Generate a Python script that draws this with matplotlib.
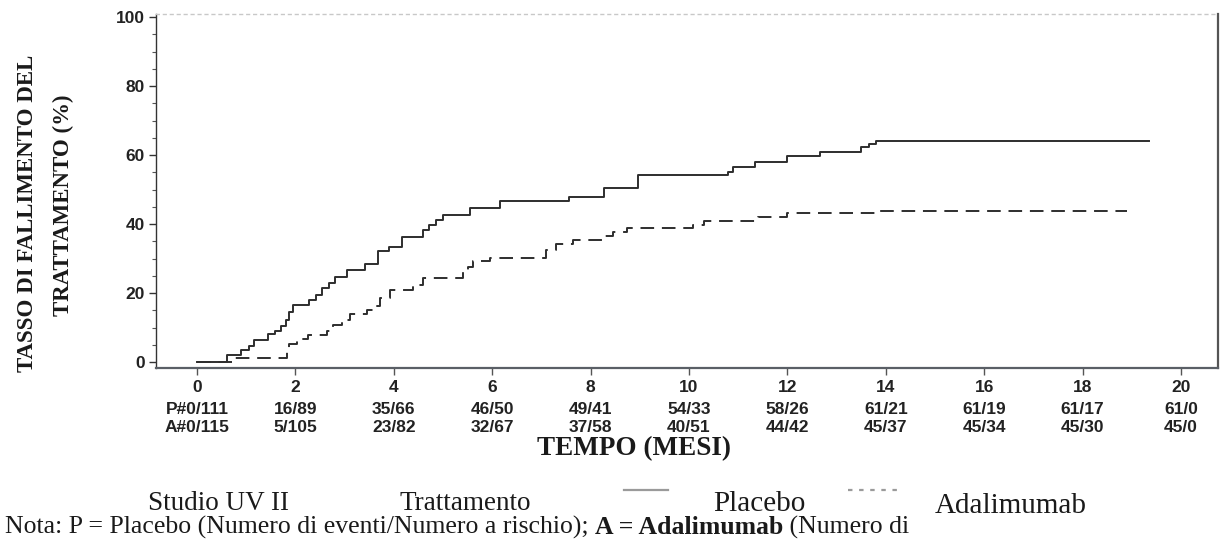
import matplotlib
matplotlib.use("Agg")
import matplotlib.pyplot as plt
from matplotlib import transforms
from matplotlib.lines import Line2D
from matplotlib.ticker import MultipleLocator

# ---------------- data ----------------
placebo_t = [0, 0.62, 0.9, 1.05, 1.15, 1.45, 1.58, 1.7, 1.8, 1.88, 1.95, 2.28, 2.42,
             2.55, 2.68, 2.8, 3.05, 3.42, 3.68, 3.9, 4.17, 4.6, 4.72, 4.85, 5.0, 5.55,
             6.16, 7.56, 8.27, 8.96, 10.8, 10.9, 11.34, 12.0, 12.66, 13.5, 13.65, 13.8, 19.35]
placebo_y = [0, 2.0, 3.5, 4.5, 6.5, 8.0, 9.0, 10.5, 12.2, 14.5, 16.5, 18.0, 19.4,
             21.4, 23.0, 24.6, 26.7, 28.5, 32.3, 33.3, 36.2, 38.3, 39.7, 41.2, 42.6, 44.6,
             46.7, 47.8, 50.4, 54.2, 55.1, 56.5, 58.0, 59.7, 60.9, 62.3, 63.2, 64.0, 64.0]

adalimumab_t = [0, 0.72, 1.83, 1.87, 2.03, 2.26, 2.64, 2.77, 2.94, 3.1, 3.45, 3.65, 3.72,
                3.92, 4.4, 4.6, 5.4, 5.5, 5.6, 5.96, 7.1, 7.3, 7.65, 8.25, 8.46, 8.74,
                10.08, 10.3, 11.4, 12.0, 13.8, 18.9]
adalimumab_y = [0, 1.2, 3.0, 5.2, 6.8, 7.8, 8.9, 10.8, 12.3, 14.0, 15.0, 16.3, 18.5,
                21.0, 22.3, 24.3, 26.0, 27.5, 29.2, 30.1, 32.5, 34.3, 35.4, 36.5, 37.7, 38.8,
                39.8, 40.9, 42.0, 43.2, 43.8, 43.8]

x_ticks = [0, 2, 4, 6, 8, 10, 12, 14, 16, 18, 20]
placebo_risk = ["P#0/111", "16/89", "35/66", "46/50", "49/41", "54/33", "58/26",
                "61/21", "61/19", "61/17", "61/0"]
adalimumab_risk = ["A#0/115", "5/105", "23/82", "32/67", "37/58", "40/51", "44/42",
                   "45/37", "45/34", "45/30", "45/0"]

ylabel_lines = ["TASSO DI FALLIMENTO DEL", "TRATTAMENTO (%)"]
xlabel = "TEMPO (MESI)"
legend_title = "Studio UV II"
legend_head = "Trattamento"
legend_names = ["Placebo", "Adalimumab"]
note_parts = ["Nota: P = Placebo (Numero di eventi/Numero a rischio); ",
              "A = Adalimumab", " (Numero di"]

# ---------------- figure ----------------
W, H = 1225, 540
fig = plt.figure(figsize=(W / 100, H / 100), dpi=100)
fig.patch.set_facecolor("white")

def fx(px):
    return px / W

def fy(py):
    return 1 - py / H

ax = fig.add_axes([fx(156), fy(368), fx(1218) - fx(156), fy(14) - fy(368)])
ax.set_xlim(-0.833, 20.75)
ax.set_ylim(-1.74, 100.9)

line_col = "#2e2e2e"
ax.step(placebo_t, placebo_y, where="post", color=line_col, lw=1.4)
ax.step(adalimumab_t, adalimumab_y, where="post", color=line_col, lw=1.4,
        linestyle=(0, (7, 4)))

# spines
ax.spines["top"].set_color("#c8c8c8")
ax.spines["top"].set_linestyle((0, (2, 3)))
ax.spines["top"].set_linewidth(1.0)
ax.spines["right"].set_color("#555555")
ax.spines["right"].set_linewidth(1.6)
ax.spines["bottom"].set_color("#5a5f66")
ax.spines["bottom"].set_linewidth(1.6)
ax.spines["left"].set_color("#333333")
ax.spines["left"].set_linewidth(1.0)

tick_font = dict(family="Liberation Sans", weight="bold", size=12.5)

ax.yaxis.set_major_locator(MultipleLocator(20))
ax.yaxis.set_minor_locator(MultipleLocator(5))
ax.tick_params(axis="y", which="major", direction="out", length=5, width=1,
               color="#333333", pad=3)
ax.tick_params(axis="y", which="minor", direction="out", length=3, width=0.8,
               color="#555555")
ax.set_yticks([0, 20, 40, 60, 80, 100])
ax.set_yticklabels([str(v) for v in [0, 20, 40, 60, 80, 100]], fontdict=tick_font,
                   color="#222222")

ax.set_xticks(x_ticks)
ax.set_xticklabels([str(v) for v in x_ticks], fontdict=tick_font, color="#222222")
ax.tick_params(axis="x", which="major", direction="out", length=5, width=1,
               color="#555555", pad=4)

# number-at-risk rows
bt = transforms.blended_transform_factory(ax.transData, fig.transFigure)
for xv, p, a in zip(x_ticks, placebo_risk, adalimumab_risk):
    ax.text(xv, fy(410), p, transform=bt, ha="center", va="center",
            color="#222222", **tick_font)
    ax.text(xv, fy(428), a, transform=bt, ha="center", va="center",
            color="#222222", **tick_font)

# axis titles
fig.text(fx(634), fy(449), xlabel, ha="center", va="center",
         family="Liberation Serif", weight="bold", size=19.5, color="#1a1a1a")
fig.text(fx(28), fy(213), ylabel_lines[0], rotation=90, ha="center", va="center",
         family="Liberation Serif", weight="bold", size=16.5, color="#1a1a1a")
fig.text(fx(63), fy(205), ylabel_lines[1], rotation=90, ha="center", va="center",
         family="Liberation Serif", weight="bold", size=16.5, color="#1a1a1a")

# legend row
leg_font = dict(family="Liberation Serif", color="#1a1a1a")
fig.text(fx(148), fy(503), legend_title, ha="left", va="center", size=19.5, **leg_font)
fig.text(fx(400), fy(503), legend_head, ha="left", va="center", size=19.5, **leg_font)
fig.text(fx(713), fy(504), legend_names[0], ha="left", va="center", size=21, **leg_font)
fig.text(fx(935), fy(506), legend_names[1], ha="left", va="center", size=21, **leg_font)
fig.add_artist(Line2D([fx(624), fx(668)], [fy(490), fy(490)], transform=fig.transFigure,
                      color="#9a9a9a", lw=1.6))
fig.add_artist(Line2D([fx(848), fx(898)], [fy(490), fy(490)], transform=fig.transFigure,
                      color="#9a9a9a", lw=1.6, linestyle=(0, (2, 3))))

# note line at the very bottom
renderer = fig.canvas.get_renderer()
x0 = fx(5)
weights = ["normal", "bold", "normal"]
for part, wgt in zip(note_parts, weights):
    t = fig.text(x0, fy(539), part, ha="left", va="bottom", family="Liberation Serif",
                 size=18.5, weight=wgt, color="#1a1a1a")
    bb = t.get_window_extent(renderer=renderer)
    x0 += bb.width / W

fig.savefig("out.png", dpi=100, facecolor="white")
